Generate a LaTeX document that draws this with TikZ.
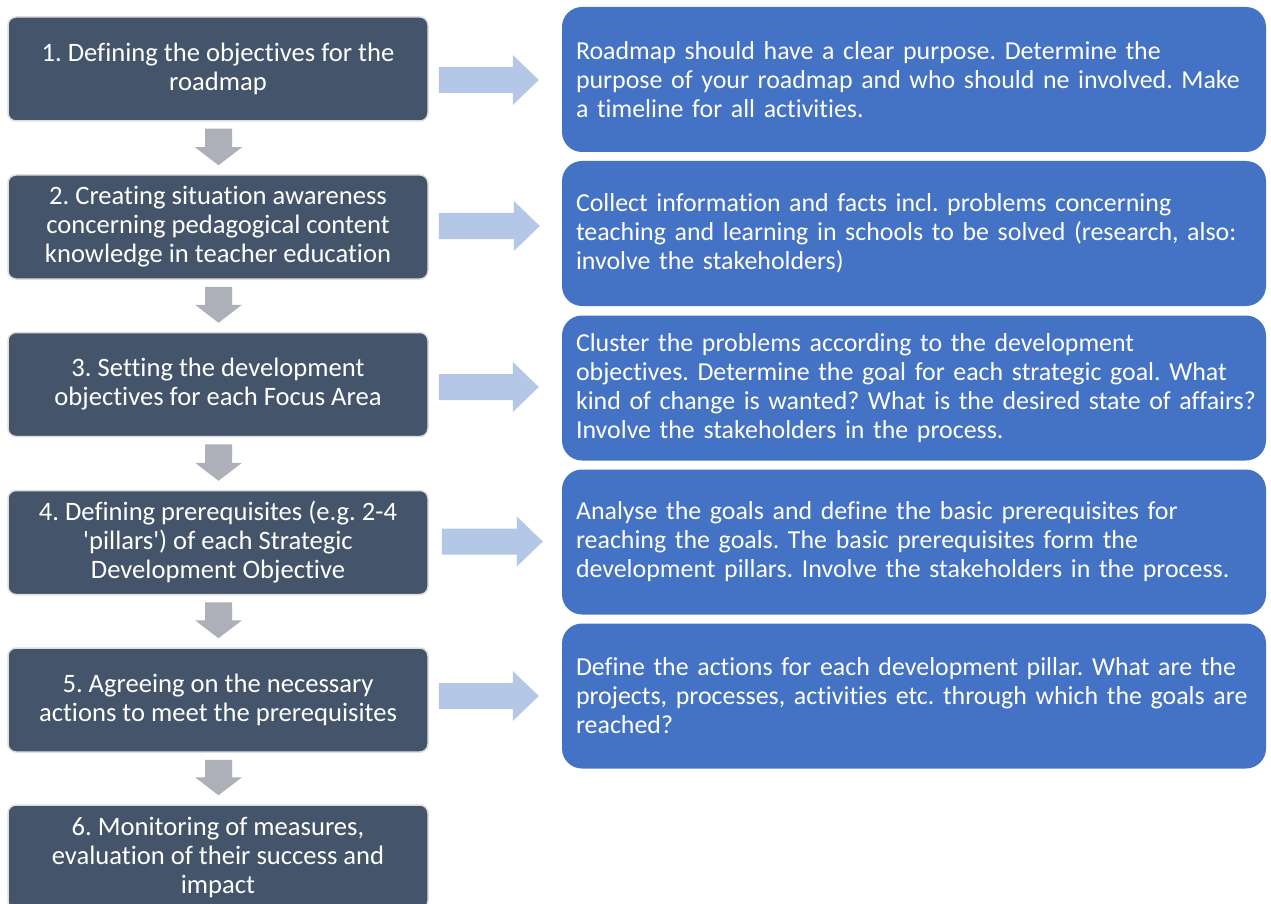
\documentclass[tikz,border=0pt]{standalone}
\usepackage{fontspec}
\setmainfont{Carlito}[Ligatures={TeXOff,NoCommon}]
\usetikzlibrary{calc}
\hfuzz=80pt
\hbadness=10000
\definecolor{darkbox}{HTML}{44546A}
\definecolor{bluebox}{HTML}{4472C4}
\definecolor{lightarrow}{HTML}{B4C7E7}
\definecolor{grayarrow}{HTML}{ADB0B8}
\definecolor{boxedge}{HTML}{DEDEDE}
\newcommand\rline[1]{\mbox{#1}}
\tikzset{
  lbox/.style={rectangle, rounded corners=8pt, fill=darkbox, draw=boxedge, line width=1.5pt,
    minimum width=420pt, minimum height=104pt, text=white, align=center,
    font=\fontsize{26.6}{29}\selectfont\frenchspacing, inner sep=0pt},
  rbox/.style={rectangle, rounded corners=20pt, fill=bluebox, draw=none,
    text width=676pt, inner xsep=14pt, inner ysep=0pt, minimum height=145pt,
    text=white, align=left, font=\fontsize{25.9}{29}\selectfont\frenchspacing},
  rarrowfill/.style={fill=lightarrow},
  darrowfill/.style={fill=grayarrow}
}
\newcommand\blockright[2]{%
  \fill[rarrowfill] let \p1=(#1), \p2=(#2) in
    (\x1,\y1+13pt) -- (\x2-26pt,\y1+13pt) -- (\x2-26pt,\y1+25pt) -- (\x2,\y1)
    -- (\x2-26pt,\y1-25pt) -- (\x2-26pt,\y1-13pt) -- (\x1,\y1-13pt) -- cycle;}
\newcommand\blockdown[2]{%
  \fill[darrowfill] let \p1=(#1), \p2=(#2) in
    (\x1-13.5pt,\y1) -- (\x1-13.5pt,\y2+18pt) -- (\x1-23.5pt,\y2+18pt) -- (\x1,\y2)
    -- (\x1+23.5pt,\y2+18pt) -- (\x1+13.5pt,\y2+18pt) -- (\x1+13.5pt,\y1) -- cycle;}
\begin{document}
\begin{tikzpicture}[x=1pt,y=-1pt]
\useasboundingbox (0,0) rectangle (1271,904);
\clip (0,0) rectangle (1271,904);
\fill[white] (0,0) rectangle (1271,904);

\node[lbox] (l1) at (218,69) {1. Defining the objectives for the\\roadmap};
\node[lbox] (l2) at (218,227) {2. Creating situation awareness\\concerning pedagogical content\\knowledge in teacher education};
\node[lbox] (l3) at (218,384.5) {3. Setting the development\\objectives for each Focus Area};
\node[lbox] (l4) at (218,542.5) {4. Defining prerequisites (e.g. 2-4\\'pillars') of each Strategic\\Development Objective};
\node[lbox] (l5) at (218,700) {5. Agreeing on the necessary\\actions to meet the prerequisites};
\node[lbox] (l6) at (218,857) {6. Monitoring of measures,\\evaluation of their success and\\impact};

\node[rbox] (r1) at (914,79.5) {\rline{Roadmap should have a clear purpose. Determine the}\\\rline{purpose of your roadmap and who should ne involved. Make}\\\rline{a timeline for all activities.}};
\node[rbox] (r2) at (914,233.5) {\rline{Collect information and facts incl. problems concerning}\\\rline{teaching and learning in schools to be solved (research, also:}\\\rline{involve the stakeholders)}};
\node[rbox] (r3) at (914,388) {\rline{Cluster the problems according to the development}\\\rline{objectives. Determine the goal for each strategic goal. What}\\\rline{kind of change is wanted? What is the desired state of affairs?}\\\rline{Involve the stakeholders in the process.}};
\node[rbox] (r4) at (914,542) {\rline{Analyse the goals and define the basic prerequisites for}\\\rline{reaching the goals. The basic prerequisites form the}\\\rline{development pillars. Involve the stakeholders in the process.}};
\node[rbox] (r5) at (914,696) {\rline{Define the actions for each development pillar. What are the}\\\rline{projects, processes, activities etc. through which the goals are}\\\rline{reached?}};

\blockright{$(l1.east)+(10,11)$}{$(r1.west)+(-23,0)$}
\blockright{$(l2.east)+(10,-1)$}{$(r2.west)+(-22,0)$}
\blockright{$(l3.east)+(10,2.5)$}{$(r3.west)+(-23,0)$}
\blockright{$(l4.east)+(13,-1)$}{$(r4.west)+(-19,0)$}
\blockright{$(l5.east)+(10,-4)$}{$(r5.west)+(-23,0)$}

\blockdown{$(l1.south)+(0.5,7)$}{$(l2.north)+(0.5,-9)$}
\blockdown{$(l2.south)+(0.5,7)$}{$(l3.north)+(0.5,-9)$}
\blockdown{$(l3.south)+(0.5,7)$}{$(l4.north)+(0.5,-9)$}
\blockdown{$(l4.south)+(0.5,7)$}{$(l5.north)+(0.5,-9)$}
\blockdown{$(l5.south)+(0.5,7)$}{$(l6.north)+(0.5,-9)$}
\end{tikzpicture}
\end{document}
